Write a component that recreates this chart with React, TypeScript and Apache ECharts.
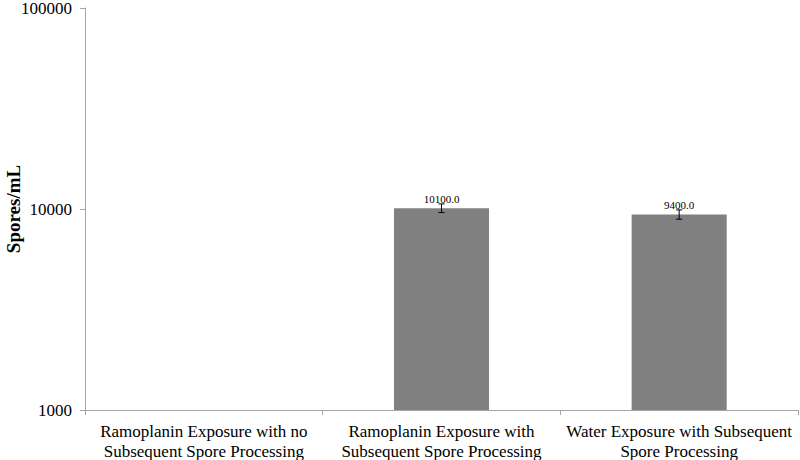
import React, { useEffect, useRef } from "react";
import * as echarts from "echarts";

const categories = [
  "Ramoplanin Exposure with no\nSubsequent Spore Processing",
  "Ramoplanin Exposure with\nSubsequent Spore Processing",
  "Water Exposure with Subsequent\nSpore Processing",
];
const values: (number | null)[] = [null, 10100, 9400];
const errors: (number | null)[] = [null, 500, 500];
const yTicks = [1000, 10000, 100000];

const FONT = "'Liberation Serif', 'Times New Roman', serif";

export default function App() {
  const ref = useRef<HTMLDivElement>(null);
  useEffect(() => {
    document.body.style.margin = "0";
    const chart = echarts.init(ref.current!, undefined, { renderer: "svg" });
    const errData = values
      .map((v, i) => (v != null && errors[i] != null ? [i, v - (errors[i] as number), v + (errors[i] as number)] : null))
      .filter((d) => d !== null);
    chart.setOption({
      animation: false,
      textStyle: { fontFamily: FONT },
      grid: { left: 85, right: 2, top: 8, bottom: 50, containLabel: false, outerBoundsMode: "none" },
      xAxis: {
        type: "category",
        data: categories,
        axisLine: { lineStyle: { color: "#a6a6a6", width: 1 } },
        axisTick: { show: true, length: 5, lineStyle: { color: "#a6a6a6" } },
        axisLabel: {
          color: "#000",
          fontSize: 17,
          fontFamily: FONT,
          lineHeight: 20,
          margin: 11,
          interval: 0,
          align: "center",
        },
      },
      yAxis: {
        type: "log",
        logBase: 10,
        min: yTicks[0],
        max: yTicks[yTicks.length - 1],
        name: "Spores/mL",
        nameLocation: "middle",
        nameGap: 62,
        nameMoveOverlap: false,
        nameRotate: 90,
        nameTextStyle: { color: "#000", fontSize: 19, fontWeight: "bold", fontFamily: FONT },
        splitLine: { show: false },
        axisLine: { show: true, lineStyle: { color: "#a6a6a6", width: 1 } },
        axisTick: { show: true, length: 5, lineStyle: { color: "#a6a6a6" } },
        axisLabel: {
          color: "#000",
          fontSize: 17,
          fontFamily: FONT,
          margin: 13,
          formatter: (v: number) => String(Math.round(v)),
        },
      },
      series: [
        {
          type: "bar",
          data: values.map((v) => (v == null ? "-" : v)),
          barWidth: "40%",
          itemStyle: { color: "#808080" },
          label: {
            show: true,
            position: "top",
            distance: 4,
            color: "#000",
            fontSize: 11,
            fontFamily: FONT,
            formatter: (p: any) => Number(p.value).toFixed(1),
          },
        },
        {
          type: "custom",
          data: errData,
          z: 10,
          renderItem: (params: any, api: any) => {
            const x = api.value(0);
            const lo = api.coord([x, api.value(1)]);
            const hi = api.coord([x, api.value(2)]);
            const w = 3;
            const style = { stroke: "#000", lineWidth: 1 };
            return {
              type: "group",
              children: [
                { type: "line", shape: { x1: lo[0], y1: lo[1], x2: hi[0], y2: hi[1] }, style },
                { type: "line", shape: { x1: lo[0] - w, y1: lo[1], x2: lo[0] + w, y2: lo[1] }, style },
                { type: "line", shape: { x1: hi[0] - w, y1: hi[1], x2: hi[0] + w, y2: hi[1] }, style },
              ],
            };
          },
        },
      ],
    });
    return () => chart.dispose();
  }, []);
  return <div ref={ref} style={{ width: 800, height: 460 }} />;
}
